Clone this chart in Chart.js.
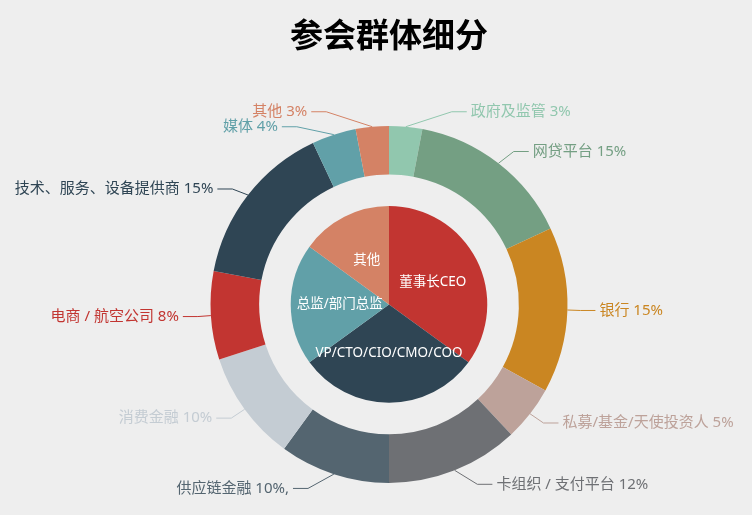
<!DOCTYPE html>
<html lang="zh">
  <head>
    <meta charset="UTF-8" />
    <title>参会群体细分</title>
    <script src="https://cdn.jsdelivr.net/npm/chart.js"></script>
    <style>
      html,
      body {
        margin: 0;
        padding: 0;
        background: #eeeeee;
      }
      #wrap {
        width: 752px;
        height: 515px;
      }
    </style>
  </head>
  <body>
    <div id="wrap"><canvas id="chart"></canvas></div>

    <script>
      // 内圈：职位
      const roleNames = ["董事长CEO", "VP/CTO/CIO/CMO/COO", "总监/部门总监", "其他"];
      const roleValues = [35, 30, 20, 15];
      const roleColors = ["#c23531", "#2f4554", "#61a0a8", "#d48265"];

      // 外圈：行业
      const sectorNames = [
        "政府及监管",
        "网贷平台",
        "银行",
        "私募/基金/天使投资人",
        "卡组织 / 支付平台",
        "供应链金融",
        "消费金融",
        "电商 / 航空公司",
        "技术、服务、设备提供商",
        "媒体",
        "其他",
      ];
      const sectorValues = [3, 15, 15, 5, 12, 10, 10, 8, 15, 4, 3];
      const sectorLabels = [
        "政府及监管 3%",
        "网贷平台 15%",
        "银行 15%",
        "私募/基金/天使投资人 5%",
        "卡组织 / 支付平台 12%",
        "供应链金融 10%,",
        "消费金融 10%",
        "电商 / 航空公司 8%",
        "技术、服务、设备提供商 15%",
        "媒体 4%",
        "其他 3%",
      ];
      const sectorColors = [
        "#91c7ae",
        "#749f83",
        "#ca8622",
        "#bda29a",
        "#6e7074",
        "#546570",
        "#c4ccd3",
        "#c23531",
        "#2f4554",
        "#61a0a8",
        "#d48265",
      ];

      const FONT = '"Noto Sans CJK SC", sans-serif';
      const LABEL_FONT = '"Noto Sans", "Noto Sans CJK SC", sans-serif';

      // 外圈引导线标签（仿 echarts 的避让方式）
      const sliceLabels = {
        id: "sliceLabels",
        afterDatasetsDraw(chart) {
          const ctx = chart.ctx;
          const len1 = 15;
          const len2 = 15;
          const h = 15;

          const items = chart.getDatasetMeta(0).data.map((arc, i) => {
            const p = arc.getProps(["x", "y", "startAngle", "endAngle", "outerRadius"]);
            const r = p.outerRadius;
            const mid = (p.startAngle + p.endAngle) / 2;
            const cos = Math.cos(mid);
            const sin = Math.sin(mid);
            return {
              i,
              cx: p.x,
              cy: p.y,
              r,
              dir: cos < 0 ? -1 : 1,
              x0: p.x + cos * r,
              y0: p.y + sin * r,
              xe: p.x + cos * (r + len1),
              y: p.y + sin * (r + len1),
            };
          });

          function adjustSide(list) {
            list.sort((a, b) => a.y - b.y);
            function shiftUp(end, delta) {
              for (let j = end; j >= 0; j--) {
                list[j].y -= delta;
                if (j > 0 && list[j].y > list[j - 1].y + h) break;
              }
            }
            function shiftDown(start, end, delta) {
              for (let j = start; j < end; j++) {
                list[j].y += delta;
                if (j > start && j + 1 < end && list[j + 1].y > list[j].y + h) {
                  shiftUp(j, delta / 2);
                  return;
                }
              }
              shiftUp(end - 1, delta / 2);
            }
            let lastY = 0;
            for (let i = 0; i < list.length; i++) {
              const delta = list[i].y - lastY;
              if (delta < 0) shiftDown(i, list.length, -delta);
              lastY = list[i].y + h;
            }
            list.forEach((it) => {
              const dy = Math.abs(it.y - it.cy);
              const R = it.r + len1 + len2;
              const dx = dy < it.r + len1 ? Math.sqrt(R * R - dy * dy) : Math.abs(it.xe - it.cx) + len2;
              it.x = it.cx + dx * it.dir;
            });
          }

          adjustSide(items.filter((it) => it.dir > 0));
          adjustSide(items.filter((it) => it.dir < 0));

          ctx.save();
          ctx.font = `15px ${LABEL_FONT}`;
          ctx.textBaseline = "middle";
          ctx.lineWidth = 1;
          items.forEach((it) => {
            const color = sectorColors[it.i];
            const endX = it.x - 2 * it.dir;
            ctx.strokeStyle = color;
            ctx.beginPath();
            ctx.moveTo(it.x0, it.y0);
            ctx.lineTo(endX - len2 * it.dir, it.y);
            ctx.lineTo(endX, it.y);
            ctx.stroke();
            ctx.fillStyle = color;
            ctx.textAlign = it.dir > 0 ? "left" : "right";
            ctx.fillText(sectorLabels[it.i], it.x + 2 * it.dir, it.y);
          });

          // 内圈标签
          ctx.font = `13.5px ${LABEL_FONT}`;
          ctx.fillStyle = "#ffffff";
          ctx.textAlign = "center";
          chart.getDatasetMeta(2).data.forEach((arc, i) => {
            const pos = arc.tooltipPosition();
            ctx.fillText(roleNames[i], pos.x, pos.y);
          });
          ctx.restore();
        },
      };

      new Chart(document.getElementById("chart"), {
        type: "doughnut",
        data: {
          labels: sectorNames,
          datasets: [
            {
              data: sectorValues,
              backgroundColor: sectorColors,
              borderWidth: 0,
              weight: 48.5,
            },
            {
              // 内外圈之间的空隙
              data: [1],
              backgroundColor: "rgba(0,0,0,0)",
              borderWidth: 0,
              weight: 31.5,
            },
            {
              data: roleValues,
              backgroundColor: roleColors,
              borderWidth: 0,
              weight: 98,
            },
          ],
        },
        options: {
          responsive: true,
          maintainAspectRatio: false,
          animation: false,
          radius: 178.5,
          cutout: 0,
          layout: { padding: { left: 26, right: 0, top: 0, bottom: 0 } },
          plugins: {
            legend: { display: false },
            tooltip: { enabled: false },
            title: {
              display: true,
              text: "参会群体细分",
              color: "#000000",
              font: { family: FONT, size: 33, weight: "bold" },
              padding: { top: 15, bottom: 39.2 },
            },
          },
        },
        plugins: [sliceLabels],
      });
    </script>
  </body>
</html>
